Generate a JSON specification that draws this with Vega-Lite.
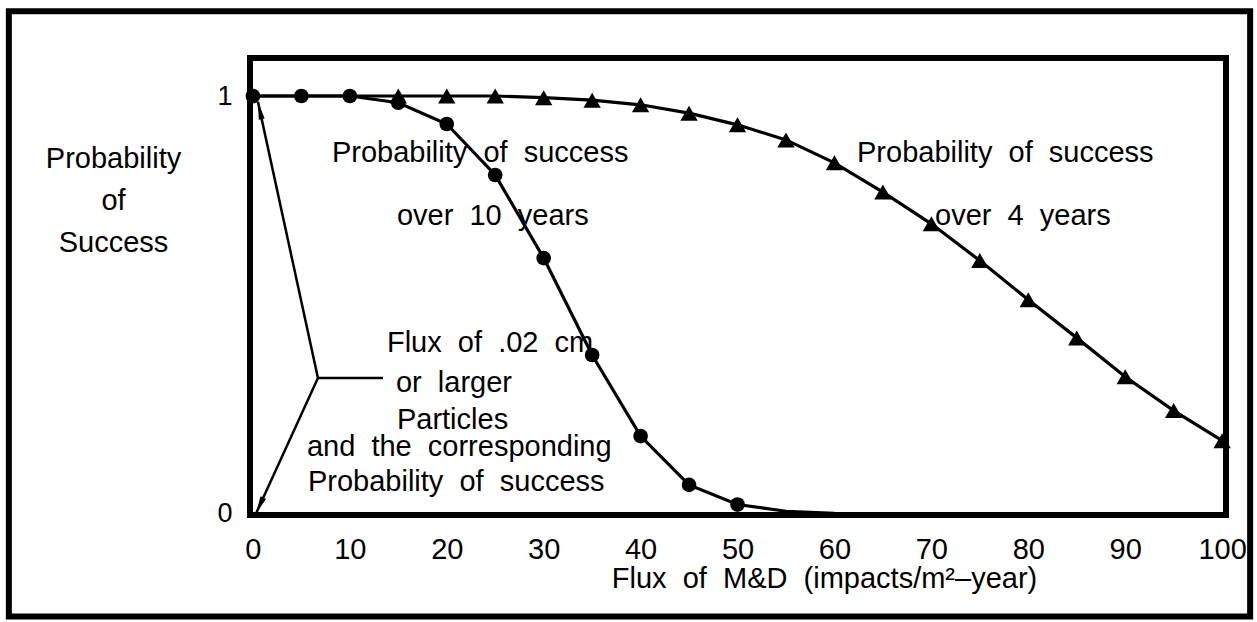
{
  "$schema": "https://vega.github.io/schema/vega-lite/v6.json",
  "width": 976,
  "height": 457,
  "autosize": {"type": "none"},
  "padding": {"left": 250, "top": 58, "right": 31, "bottom": 107},
  "background": "white",
  "config": {
    "view": {"stroke": "black", "strokeWidth": 6},
    "font": "Liberation Sans"
  },
  "datasets": {
    "curves": [
      {"flux": 0, "p": 1, "series": "10 years"},
      {"flux": 5, "p": 1, "series": "10 years"},
      {"flux": 10, "p": 1, "series": "10 years"},
      {"flux": 15, "p": 0.984, "series": "10 years"},
      {"flux": 20, "p": 0.933, "series": "10 years"},
      {"flux": 25, "p": 0.811, "series": "10 years"},
      {"flux": 30, "p": 0.612, "series": "10 years"},
      {"flux": 35, "p": 0.38, "series": "10 years"},
      {"flux": 40, "p": 0.186, "series": "10 years"},
      {"flux": 45, "p": 0.069, "series": "10 years"},
      {"flux": 50, "p": 0.022, "series": "10 years"},
      {"flux": 55, "p": 0.006, "series": "10 years"},
      {"flux": 60, "p": 0.001, "series": "10 years"},
      {"flux": 0, "p": 1, "series": "4 years"},
      {"flux": 5, "p": 1, "series": "4 years"},
      {"flux": 10, "p": 1, "series": "4 years"},
      {"flux": 15, "p": 1, "series": "4 years"},
      {"flux": 20, "p": 1, "series": "4 years"},
      {"flux": 25, "p": 1, "series": "4 years"},
      {"flux": 30, "p": 0.996, "series": "4 years"},
      {"flux": 35, "p": 0.99, "series": "4 years"},
      {"flux": 40, "p": 0.979, "series": "4 years"},
      {"flux": 45, "p": 0.959, "series": "4 years"},
      {"flux": 50, "p": 0.931, "series": "4 years"},
      {"flux": 55, "p": 0.895, "series": "4 years"},
      {"flux": 60, "p": 0.84, "series": "4 years"},
      {"flux": 65, "p": 0.77, "series": "4 years"},
      {"flux": 70, "p": 0.694, "series": "4 years"},
      {"flux": 75, "p": 0.606, "series": "4 years"},
      {"flux": 80, "p": 0.512, "series": "4 years"},
      {"flux": 85, "p": 0.421, "series": "4 years"},
      {"flux": 90, "p": 0.328, "series": "4 years"},
      {"flux": 95, "p": 0.247, "series": "4 years"},
      {"flux": 100, "p": 0.175, "series": "4 years"}
    ],
    "labels": [
      {"flux": 8.15, "p": 0.842, "text": "Probability\u00a0 of\u00a0 success"},
      {"flux": 14.86, "p": 0.691, "text": "over\u00a0 10\u00a0 years"},
      {"flux": 62.33, "p": 0.842, "text": "Probability\u00a0 of\u00a0 success"},
      {"flux": 70.38, "p": 0.691, "text": "over\u00a0 4\u00a0 years"},
      {"flux": 13.83, "p": 0.388, "text": "Flux\u00a0 of\u00a0 .02\u00a0 cm"},
      {"flux": 14.76, "p": 0.292, "text": "or\u00a0 larger"},
      {"flux": 14.86, "p": 0.203, "text": "Particles"},
      {"flux": 5.57, "p": 0.139, "text": "and\u00a0 the\u00a0 corresponding"},
      {"flux": 5.68, "p": 0.055, "text": "Probability\u00a0 of\u00a0 success"}
    ],
    "pointers": [
      {"from_flux": 6.71, "from_p": 0.325, "to_flux": 0.52, "to_p": 0.986},
      {"from_flux": 6.71, "from_p": 0.325, "to_flux": 0.31, "to_p": 0.0},
      {"from_flux": 6.71, "from_p": 0.325, "to_flux": 13.42, "to_p": 0.325}
    ],
    "heads": [
      {"flux": 0.52, "p": 0.986, "end": "upper"},
      {"flux": 0.31, "p": 0.0, "end": "lower"}
    ],
    "frame": [
      {"left": -25.18, "right": 102.89, "top": 1.203, "bottom": -0.246}
    ]
  },
  "layer": [
    {
      "data": {"name": "curves"},
      "mark": {"type": "line", "color": "black", "strokeWidth": 3.2},
      "encoding": {
        "x": {
          "field": "flux",
          "type": "quantitative",
          "scale": {"domain": [-0.3, 100.4], "nice": false, "zero": false},
          "axis": {
            "values": [0, 10, 20, 30, 40, 50, 60, 70, 80, 90, 100],
            "format": "d",
            "title": "Flux\u00a0 of\u00a0 M&D\u00a0 (impacts/m²–year)",
            "grid": false,
            "domain": false,
            "ticks": false,
            "labelFlush": false,
            "labelOverlap": false,
            "labelFontSize": 29,
            "labelPadding": 20,
            "labelColor": "black",
            "titleFontSize": 29,
            "titleFontWeight": "normal",
            "titleColor": "black",
            "titleX": 574,
            "titleY": 72,
            "titleAlign": "center",
            "titleBaseline": "alphabetic"
          }
        },
        "y": {
          "field": "p",
          "type": "quantitative",
          "scale": {"domain": [-0.003, 1.091], "nice": false, "zero": false},
          "axis": {
            "values": [0, 1],
            "format": "d",
            "title": ["Probability", "of", "Success"],
            "titleAngle": 0,
            "titleAlign": "center",
            "titleBaseline": "alphabetic",
            "titleX": -137,
            "titleY": 109,
            "titleLineHeight": 42,
            "titleFontSize": 29,
            "titleFontWeight": "normal",
            "titleColor": "black",
            "grid": false,
            "domain": false,
            "ticks": false,
            "labelFlush": false,
            "labelFontSize": 27,
            "labelPadding": 18,
            "labelColor": "black"
          }
        },
        "detail": {"field": "series", "type": "nominal"}
      }
    },
    {
      "data": {"name": "curves"},
      "transform": [{"filter": "datum.series === '10 years' && datum.flux <= 50"}],
      "mark": {"type": "point", "shape": "circle", "filled": true, "color": "black", "opacity": 1, "size": 215},
      "encoding": {
        "x": {"field": "flux", "type": "quantitative"},
        "y": {"field": "p", "type": "quantitative"}
      }
    },
    {
      "data": {"name": "curves"},
      "transform": [{"filter": "datum.series === '4 years' && datum.flux >= 15"}],
      "mark": {"type": "point", "shape": "triangle-up", "filled": true, "color": "black", "opacity": 1, "size": 300},
      "encoding": {
        "x": {"field": "flux", "type": "quantitative"},
        "y": {"field": "p", "type": "quantitative"}
      }
    },
    {
      "data": {"name": "labels"},
      "mark": {"type": "text", "align": "left", "baseline": "alphabetic", "fontSize": 29, "color": "black", "font": "Liberation Sans"},
      "encoding": {
        "x": {"field": "flux", "type": "quantitative"},
        "y": {"field": "p", "type": "quantitative"},
        "text": {"field": "text", "type": "nominal"}
      }
    },
    {
      "data": {"name": "pointers"},
      "mark": {"type": "rule", "color": "black", "strokeWidth": 2.5},
      "encoding": {
        "x": {"field": "from_flux", "type": "quantitative"},
        "y": {"field": "from_p", "type": "quantitative"},
        "x2": {"field": "to_flux"},
        "y2": {"field": "to_p"}
      }
    },
    {
      "data": {"name": "heads"},
      "transform": [{"filter": "datum.end === 'upper'"}],
      "mark": {"type": "point", "shape": "M0,0L0.24,1.4L-0.24,1.4Z", "filled": true, "color": "black", "opacity": 1, "size": 640, "angle": -12.3},
      "encoding": {
        "x": {"field": "flux", "type": "quantitative"},
        "y": {"field": "p", "type": "quantitative"}
      }
    },
    {
      "data": {"name": "heads"},
      "transform": [{"filter": "datum.end === 'lower'"}],
      "mark": {"type": "point", "shape": "M0,0L0.24,1.4L-0.24,1.4Z", "filled": true, "color": "black", "opacity": 1, "size": 640, "angle": 204.5},
      "encoding": {
        "x": {"field": "flux", "type": "quantitative"},
        "y": {"field": "p", "type": "quantitative"}
      }
    },
    {
      "data": {"name": "frame"},
      "mark": {"type": "rect", "filled": false, "stroke": "black", "strokeWidth": 6},
      "encoding": {
        "x": {"field": "left", "type": "quantitative"},
        "x2": {"field": "right"},
        "y": {"field": "top", "type": "quantitative"},
        "y2": {"field": "bottom"}
      }
    }
  ]
}
